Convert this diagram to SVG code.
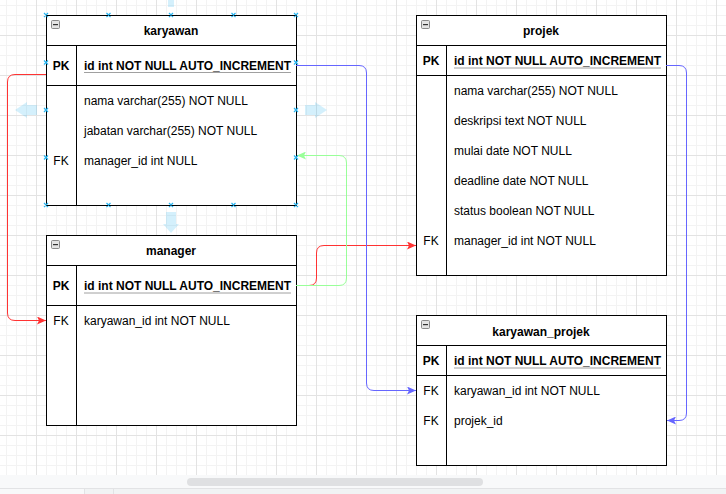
<svg xmlns="http://www.w3.org/2000/svg" width="726" height="494" viewBox="0 0 726 494">
<style>
.t{font-family:"Liberation Sans",Arial,sans-serif;font-size:12px;fill:#000}
.b{font-weight:bold}
.c{text-anchor:middle}
.box{fill:#fff;stroke:#000;stroke-width:1}
.ln{stroke:#000;stroke-width:1;fill:none}
.ul{stroke:#a0a0a0;stroke-width:1}
.cp{stroke:#29b6f2;stroke-width:1.2;fill:none}
.ha{fill:#29b6f2;opacity:0.2}
.ico{fill:#e4e4e4;stroke:#8a8a8a;stroke-width:1}
.e{fill:none;stroke-width:1}
</style>
<defs>
<pattern id="grid" width="40" height="40" patternUnits="userSpaceOnUse" x="-4" y="-5">
<rect x="10" y="0" width="1" height="40" fill="#f3f3f3"/>
<rect x="20" y="0" width="1" height="40" fill="#f3f3f3"/>
<rect x="30" y="0" width="1" height="40" fill="#f3f3f3"/>
<rect x="0" y="10" width="40" height="1" fill="#f3f3f3"/>
<rect x="0" y="20" width="40" height="1" fill="#f3f3f3"/>
<rect x="0" y="30" width="40" height="1" fill="#f3f3f3"/>
<rect x="0" y="0" width="1" height="40" fill="#e3e3e3"/>
<rect x="0" y="0" width="40" height="1" fill="#e3e3e3"/>
</pattern>
<marker id="aR" viewBox="0 0 9 8" refX="9" refY="4" markerWidth="9" markerHeight="8" markerUnits="userSpaceOnUse" orient="auto"><path d="M0,0 L9,4 L0,8 L2,4 Z" fill="#FF3333"/></marker>
<marker id="aB" viewBox="0 0 9 8" refX="9" refY="4" markerWidth="9" markerHeight="8" markerUnits="userSpaceOnUse" orient="auto"><path d="M0,0 L9,4 L0,8 L2,4 Z" fill="#6666FF"/></marker>
<marker id="aG" viewBox="0 0 9 8" refX="9" refY="4" markerWidth="9" markerHeight="8" markerUnits="userSpaceOnUse" orient="auto"><path d="M0,0 L9,4 L0,8 L2,4 Z" fill="#99FF99"/></marker>
<g id="minus"><rect class="ico" x="0.5" y="0.5" width="8" height="8" rx="1"/><rect x="2" y="4" width="5" height="1.2" fill="#333"/></g>
</defs>

<rect x="0" y="0" width="726" height="475" fill="#fff"/>
<rect x="0" y="0" width="726" height="475" fill="url(#grid)"/>

<g id="hover-arrows">
<polygon class="ha" points="168,0 174,0 174,7 168,7"/>
<polygon class="ha" points="166,212 176,212 176,224 179,224 171,233 163,224 166,224"/>
<polygon class="ha" points="37,105 27,105 27,102 15,110 27,118 27,115 37,115"/>
<polygon class="ha" points="305,105 315,105 315,102 327,110 315,118 315,115 305,115"/>
</g>

<g id="karyawan">
<rect class="box" x="46.5" y="15.5" width="250" height="190"/>
<line class="ln" x1="46.5" y1="45.5" x2="296.5" y2="45.5"/>
<line class="ln" x1="46.5" y1="85.5" x2="296.5" y2="85.5"/>
<line class="ln" x1="76.5" y1="45.5" x2="76.5" y2="205.5"/>
<use href="#minus" x="51" y="20"/>
<text class="t b c" x="171" y="34.5">karyawan</text>
<text class="t b c" x="61" y="69.5">PK</text>
<line class="ul" x1="84" y1="72.5" x2="291" y2="72.5"/>
<text class="t b" x="84" y="69.5">id int NOT NULL AUTO_INCREMENT</text>
<text class="t" x="84" y="104.5">nama varchar(255) NOT NULL</text>
<text class="t" x="84" y="134.5">jabatan varchar(255) NOT NULL</text>
<text class="t c" x="61" y="164.5">FK</text>
<text class="t" x="84" y="164.5">manager_id int NULL</text>
</g>

<g id="manager">
<rect class="box" x="46.5" y="235.5" width="250" height="190"/>
<line class="ln" x1="46.5" y1="265.5" x2="296.5" y2="265.5"/>
<line class="ln" x1="46.5" y1="305.5" x2="296.5" y2="305.5"/>
<line class="ln" x1="76.5" y1="265.5" x2="76.5" y2="425.5"/>
<use href="#minus" x="51" y="240"/>
<text class="t b c" x="171" y="255">manager</text>
<text class="t b c" x="61" y="290">PK</text>
<line class="ul" x1="84" y1="293" x2="291" y2="293"/>
<text class="t b" x="84" y="290">id int NOT NULL AUTO_INCREMENT</text>
<text class="t c" x="61" y="324.5">FK</text>
<text class="t" x="84" y="324.5">karyawan_id int NOT NULL</text>
</g>

<g id="projek">
<rect class="box" x="416.5" y="15.5" width="250" height="260"/>
<line class="ln" x1="416.5" y1="45.5" x2="666.5" y2="45.5"/>
<line class="ln" x1="416.5" y1="75.5" x2="666.5" y2="75.5"/>
<line class="ln" x1="446.5" y1="45.5" x2="446.5" y2="275.5"/>
<use href="#minus" x="421" y="20"/>
<text class="t b c" x="541" y="34.5">projek</text>
<text class="t b c" x="431" y="65">PK</text>
<line class="ul" x1="454" y1="68" x2="661" y2="68"/>
<text class="t b" x="454" y="65">id int NOT NULL AUTO_INCREMENT</text>
<text class="t" x="454" y="94.5">nama varchar(255) NOT NULL</text>
<text class="t" x="454" y="124.5">deskripsi text NOT NULL</text>
<text class="t" x="454" y="154.5">mulai date NOT NULL</text>
<text class="t" x="454" y="184.5">deadline date NOT NULL</text>
<text class="t" x="454" y="214.5">status boolean NOT NULL</text>
<text class="t c" x="431" y="244.5">FK</text>
<text class="t" x="454" y="244.5">manager_id int NOT NULL</text>
</g>

<g id="karyawan_projek">
<rect class="box" x="416.5" y="315.5" width="250" height="150"/>
<line class="ln" x1="416.5" y1="345.5" x2="666.5" y2="345.5"/>
<line class="ln" x1="416.5" y1="375.5" x2="666.5" y2="375.5"/>
<line class="ln" x1="446.5" y1="345.5" x2="446.5" y2="465.5"/>
<use href="#minus" x="421" y="320"/>
<text class="t b c" x="541" y="335.5">karyawan_projek</text>
<text class="t b c" x="431" y="365">PK</text>
<line class="ul" x1="454" y1="368" x2="661" y2="368"/>
<text class="t b" x="454" y="365">id int NOT NULL AUTO_INCREMENT</text>
<text class="t c" x="431" y="394.5">FK</text>
<text class="t" x="454" y="394.5">karyawan_id int NOT NULL</text>
<text class="t c" x="431" y="424.5">FK</text>
<text class="t" x="454" y="424.5">projek_id</text>
</g>

<g id="connectors">
<path class="e" stroke="#FF3333" marker-end="url(#aR)" d="M46,74.5 H15 Q7.5,74.5 7.5,82 V313 Q7.5,320.5 15,320.5 H46"/>
<path class="e" stroke="#FF3333" marker-end="url(#aR)" d="M296,285.5 H309 Q316.5,285.5 316.5,278 V253 Q316.5,245.5 324,245.5 H416"/>
<path class="e" stroke="#99FF99" marker-end="url(#aG)" d="M296,285.5 H339 Q346.5,285.5 346.5,278 V163 Q346.5,155.5 339,155.5 H297"/>
<path class="e" stroke="#6666FF" marker-end="url(#aB)" d="M296,65.5 H359 Q366.5,65.5 366.5,73 V383 Q366.5,390.5 374,390.5 H416"/>
<path class="e" stroke="#6666FF" marker-end="url(#aB)" d="M666,65.5 H679 Q686.5,65.5 686.5,73 V413 Q686.5,420.5 679,420.5 H667"/>
</g>

<g id="connection-points">
<path class="cp" d="M44,13 l4,4 m0,-4 l-4,4 M106.5,13 l4,4 m0,-4 l-4,4 M169,13 l4,4 m0,-4 l-4,4 M231.5,13 l4,4 m0,-4 l-4,4 M294,13 l4,4 m0,-4 l-4,4"/>
<path class="cp" d="M44,203 l4,4 m0,-4 l-4,4 M106.5,203 l4,4 m0,-4 l-4,4 M169,203 l4,4 m0,-4 l-4,4 M231.5,203 l4,4 m0,-4 l-4,4 M294,203 l4,4 m0,-4 l-4,4"/>
<path class="cp" d="M44,60.5 l4,4 m0,-4 l-4,4 M44,108 l4,4 m0,-4 l-4,4 M44,155.5 l4,4 m0,-4 l-4,4"/>
<path class="cp" d="M294,60.5 l4,4 m0,-4 l-4,4 M294,108 l4,4 m0,-4 l-4,4 M294,155.5 l4,4 m0,-4 l-4,4"/>
</g>

<g id="scrollbar">
<rect x="0" y="475" width="726" height="19" fill="#f8f9fa"/>
<rect x="187" y="478" width="296" height="8" rx="4" fill="#dfe0e2"/>
<rect x="0" y="488" width="726" height="1" fill="#e2e3e5"/>
<rect x="84" y="489" width="642" height="5" fill="#f1f3f4"/>
<rect x="84" y="489" width="1" height="5" fill="#e2e3e5"/>
<rect x="113" y="489" width="1" height="5" fill="#e2e3e5"/>
</g>
</svg>
